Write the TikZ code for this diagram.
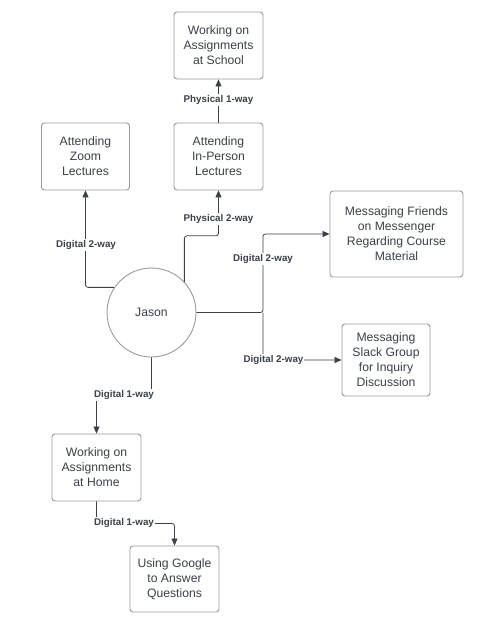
\documentclass[tikz,border=0pt]{standalone}
\usepackage{fontspec}
\setmainfont{Liberation Sans}
\usetikzlibrary{arrows.meta}
\definecolor{txt}{HTML}{3A414A}
\definecolor{bd}{HTML}{9A9A9A}
\begin{document}
\begin{tikzpicture}[x=1pt,y=-1pt,
  box/.style={draw=bd, line width=0.9pt, rounded corners=3pt, text=txt,
    font=\fontsize{12.2}{15}\selectfont, align=center, inner sep=0pt},
  conn/.style={draw=txt, line width=0.8pt, rounded corners=2.5pt,
    -{Triangle[length=7pt,width=6pt]}},
  lbl/.style={font=\bfseries\fontsize{9.8}{11}\selectfont, text=txt, fill=white, inner sep=1pt}]
\fill[white] (0,0) rectangle (498,632);
\useasboundingbox (0,0) rectangle (498,632);

\node[box, minimum width=89pt, minimum height=67pt] (school) at (218.5,45.5) {Working on\\Assignments\\at School};
\node[box, minimum width=88pt, minimum height=67pt] (zoom) at (85.5,156.5) {Attending\\Zoom\\Lectures};
\node[box, minimum width=89pt, minimum height=67pt] (inperson) at (218.5,156.5) {Attending\\In-Person\\Lectures};
\node[box, minimum width=133pt, minimum height=86pt] (messenger) at (396.5,234) {Messaging Friends\\on Messenger\\Regarding Course\\Material};
\node[box, minimum width=88pt, minimum height=72pt] (slack) at (386,360) {Messaging\\Slack Group\\for Inquiry\\Discussion};
\node[draw=bd, line width=0.9pt, circle, minimum size=89pt, inner sep=0pt, text=txt,
  font=\fontsize{12.2}{15}\selectfont] (jason) at (151.5,312.5) {Jason};
\node[box, minimum width=89pt, minimum height=67pt] (home) at (96.5,467.5) {Working on\\Assignments\\at Home};
\node[box, minimum width=89pt, minimum height=66pt] (google) at (174.5,579) {Using Google\\to Answer\\Questions};

\coordinate (j) at (263,312.5);

\draw[conn] (jason.146.6) -| (zoom.south);
\node[lbl] (l1) at (86,245) {Digital 2-way};

\draw[conn] (jason.43.1) -- ++(0,-46) -| (inperson.south);
\node[lbl] (l2) at (218.5,219) {Physical 2-way};

\draw[conn] (inperson.north) -- (school.south);
\node[lbl] (l3) at (218.5,100) {Physical 1-way};

\draw[conn] (jason.east) -- (j) |- (messenger.west);
\node[lbl] (l4) at (263,259) {Digital 2-way};

\draw[conn] (j) |- (slack.west);
\node[lbl] (l5) at (273.5,360) {Digital 2-way};

\draw[conn] (jason.south) -- ++(0,38) -| (home.north);
\node[lbl] (l6) at (124,395) {Digital 1-way};

\draw[conn] (home.south) -- ++(0,22) -| (google.north);
\node[lbl] (l7) at (124,523) {Digital 1-way};
\end{tikzpicture}
\end{document}
